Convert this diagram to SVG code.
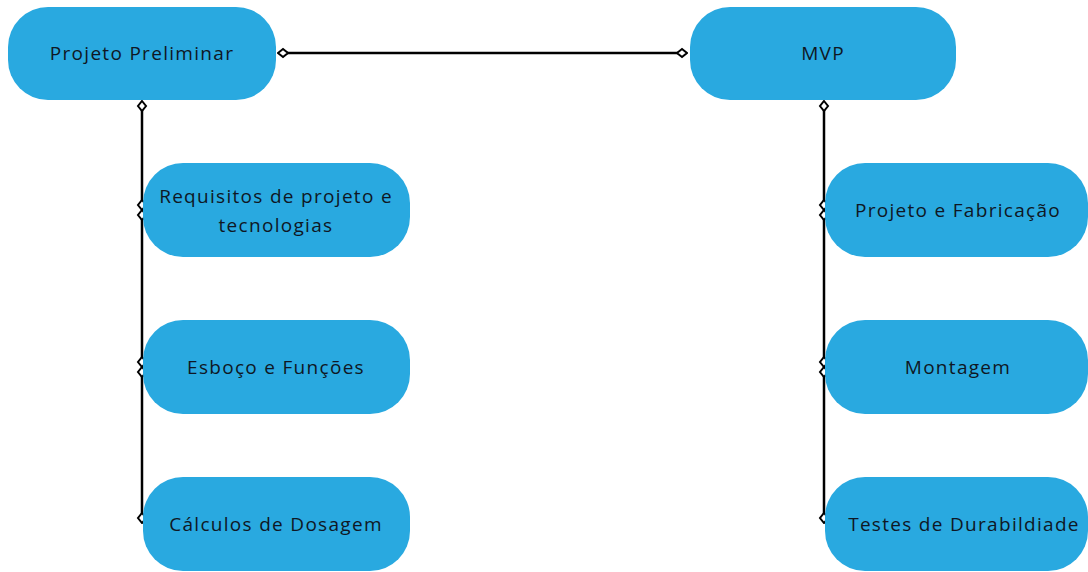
<svg xmlns="http://www.w3.org/2000/svg" width="1088" height="572" viewBox="0 0 1088 572">
<style>
.node rect{fill:#29A9E0;}
.node text{font-family:"Open Sans","Noto Sans",sans-serif;font-size:19px;letter-spacing:1.3px;fill:#0f1724;text-anchor:middle;dominant-baseline:central;}
.conn path{fill:none;stroke:#000;stroke-width:2.5;}
</style>
<defs>
<marker id="dia" viewBox="-6 -6 12 12" markerWidth="12" markerHeight="12" markerUnits="userSpaceOnUse" orient="auto" refX="0" refY="0">
<path d="M-5 0 L0 -4 L5 0 L0 4 Z" fill="#fff" stroke="#000" stroke-width="2"/>
</marker>
</defs>
<rect width="1088" height="572" fill="#fff"/>
<g class="conn">
<path d="M283 53 H682" marker-start="url(#dia)" marker-end="url(#dia)"/>
<path d="M142 106 V205" marker-start="url(#dia)" marker-end="url(#dia)"/>
<path d="M142 215 V362" marker-start="url(#dia)" marker-end="url(#dia)"/>
<path d="M142 372 V518" marker-start="url(#dia)" marker-end="url(#dia)"/>
<path d="M824 106 V205" marker-start="url(#dia)" marker-end="url(#dia)"/>
<path d="M824 215 V362" marker-start="url(#dia)" marker-end="url(#dia)"/>
<path d="M824 372 V518" marker-start="url(#dia)" marker-end="url(#dia)"/>
</g>
<g class="node" id="projeto-preliminar"><rect x="8" y="7" width="268" height="93" rx="40"/><text x="142" y="53">Projeto Preliminar</text></g>
<g class="node" id="mvp"><rect x="690" y="7" width="266" height="93" rx="40"/><text x="823" y="53">MVP</text></g>
<g class="node" id="requisitos"><rect x="143" y="163" width="267" height="94" rx="40"/><text x="276" y="196">Requisitos de projeto e</text><text x="276" y="225">tecnologias</text></g>
<g class="node" id="esboco"><rect x="143" y="320" width="267" height="94" rx="40"/><text x="276" y="367">Esboço e Funções</text></g>
<g class="node" id="calculos"><rect x="143" y="477" width="267" height="94" rx="40"/><text x="276" y="524">Cálculos de Dosagem</text></g>
<g class="node" id="projeto-fabricacao"><rect x="825" y="163" width="263" height="94" rx="40"/><text x="958" y="210">Projeto e Fabricação</text></g>
<g class="node" id="montagem"><rect x="825" y="320" width="263" height="94" rx="40"/><text x="958" y="367">Montagem</text></g>
<g class="node" id="testes"><rect x="825" y="477" width="263" height="94" rx="40"/><text x="964" y="524">Testes de Durabildiade</text></g>
</svg>
